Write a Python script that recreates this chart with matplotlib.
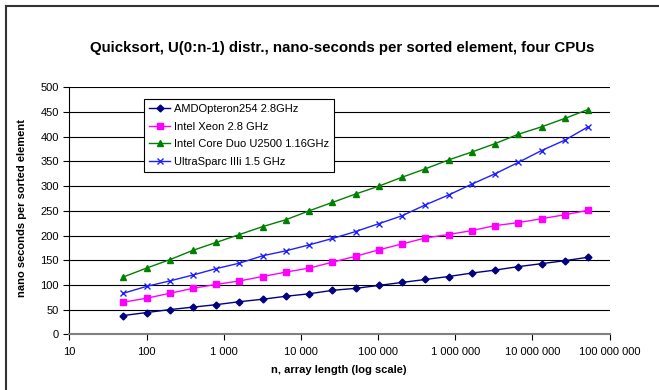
# Quicksort timings per sorted element, four CPUs (log x axis)
import numpy as np
import matplotlib
matplotlib.use("Agg")
import matplotlib.pyplot as plt
from matplotlib.ticker import FuncFormatter, FixedLocator, NullLocator

plt.rcParams['font.family'] = ['Liberation Sans', 'DejaVu Sans']

# array lengths: 50, 100, 200, ... (doubling, 21 points)
n = [50, 100, 200, 400, 800, 1600, 3200, 6400, 12800, 25600, 51200,
     102400, 204800, 409600, 819200, 1638400, 3276800, 6553600,
     13107200, 26214400, 52428800]

amd = [38, 44, 50, 55, 60, 66, 71, 77, 82, 89, 93,
       99, 105, 111, 117, 124, 130, 137, 143, 149, 156]
xeon = [65, 73, 83, 93, 101, 108, 117, 126, 134, 146, 158,
        171, 183, 195, 202, 210, 220, 226, 234, 242, 251]
coreduo = [116, 134, 151, 170, 186, 202, 218, 232, 250, 267, 284,
           300, 318, 335, 353, 369, 386, 405, 420, 437, 455]
sparc = [83, 97, 108, 120, 133, 144, 159, 169, 181, 194, 208,
         224, 240, 262, 282, 304, 325, 348, 372, 393, 420]

labels = ["AMDOpteron254 2.8GHz", "Intel Xeon 2.8 GHz",
          "Intel Core Duo U2500 1.16GHz", "UltraSparc IIIi 1.5 GHz"]

W, H = 659, 390
fig = plt.figure(figsize=(W / 100, H / 100), dpi=100)

# outer chart frame (cut off at right and bottom)
fig.add_artist(plt.Line2D([5.5 / W, 5.5 / W], [0, 1 - 5.5 / H],
                          transform=fig.transFigure, color="#333333", lw=1.5))
fig.add_artist(plt.Line2D([5.5 / W, 1], [1 - 5.5 / H, 1 - 5.5 / H],
                          transform=fig.transFigure, color="#333333", lw=1.5))

ax = fig.add_axes([69.3 / W, 1 - 334.3 / H, 540.4 / W, 247 / H])

ax.plot(n, amd, color="#000080", marker="D", markersize=3.5, lw=1, label=labels[0])
ax.plot(n, xeon, color="#FF00FF", marker="s", markersize=4, lw=1, label=labels[1])
ax.plot(n, coreduo, color="#008000", marker="^", markersize=5, lw=1, label=labels[2])
ax.plot(n, sparc, color="#2020FF", marker="x", markersize=4.5, mew=1, lw=1, label=labels[3])

ax.set_xscale("log")
ax.set_xlim(10, 1e8)
ax.set_ylim(0, 500)
ax.xaxis.set_major_locator(FixedLocator([10 ** k for k in range(1, 9)]))
ax.xaxis.set_minor_locator(NullLocator())
ax.xaxis.set_major_formatter(FuncFormatter(lambda v, p: f"{int(round(v)):,}".replace(",", " ")))
ax.set_yticks(range(0, 501, 50))

for y in range(50, 501, 50):
    ax.axhline(y, color="black", lw=0.8, zorder=0)

for s in ["top", "right"]:
    ax.spines[s].set_visible(False)
ax.spines["left"].set_color("black")
ax.spines["bottom"].set_color("#808080")
ax.spines["bottom"].set_linewidth(1.5)
ax.tick_params(axis="both", direction="out", length=4, labelsize=8, colors="black")
ax.tick_params(axis="x", pad=5)

fig.text(342 / W, 1 - 48 / H, "Quicksort, U(0:n-1) distr., nano-seconds per sorted element, four CPUs",
         ha="center", va="center", fontsize=10.8, fontweight="bold")
fig.text(339 / W, 1 - 370 / H, "n, array length (log scale)",
         ha="center", va="center", fontsize=8, fontweight="bold")
fig.text(22 / W, 1 - 208 / H, "nano seconds per sorted element", rotation=90,
         ha="center", va="center", fontsize=8, fontweight="bold")

leg = ax.legend(loc="upper left", bbox_to_anchor=(144.3 / W, 1 - 98.8 / H),
                bbox_transform=fig.transFigure, borderaxespad=0, fontsize=8,
                fancybox=False, framealpha=1, edgecolor="black",
                handlelength=1.9, labelspacing=0.7, borderpad=0.45, handletextpad=0.35)
leg.get_frame().set_linewidth(0.8)

fig.savefig("out.png", dpi=100)
